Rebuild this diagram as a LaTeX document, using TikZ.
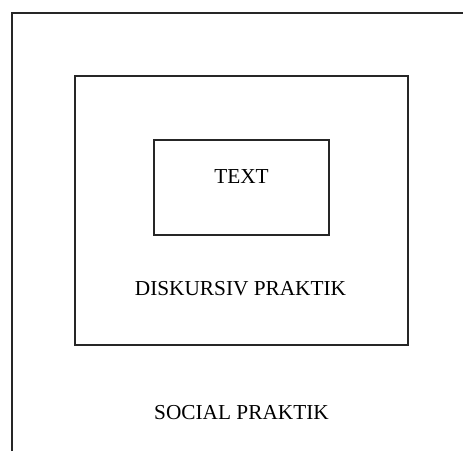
\documentclass[tikz,border=0pt]{standalone}
\usepackage{fontspec}
\setmainfont{Liberation Serif}
\tikzset{label text/.style={font=\fontsize{21.3}{25}\selectfont, inner sep=0pt}}
\begin{document}
\begin{tikzpicture}[x=1pt,y=-1pt,line width=2pt,color=black!85]
            \useasboundingbox (0,0) rectangle (463,451);
            \draw (11.5,451) -- (11.5,13) -- (463,13);
            \draw (74.5,76) rectangle (407.5,345);
            \draw (154,140) rectangle (328.5,235);

            \node[label text,black] (text) at(241.5,176.5) {TEXT};
            \node[label text,black] (diskursiv) at(240.5,288.5) {DISKURSIV PRAKTIK};
            \node[label text,black] (social) at(241.5,412.5) {SOCIAL PRAKTIK};
        \end{tikzpicture}
\end{document}
